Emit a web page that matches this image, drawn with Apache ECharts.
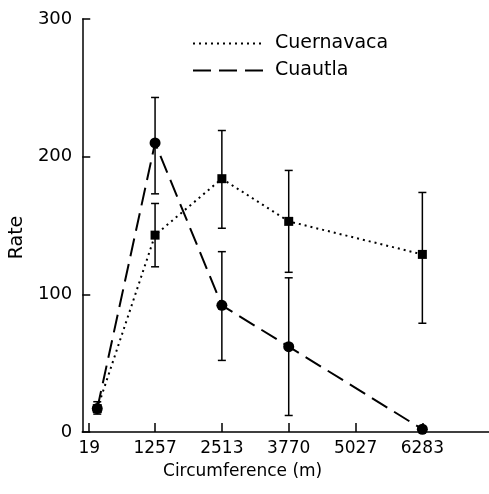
<!DOCTYPE html>
<html>
<head>
<meta charset="utf-8">
<script src="https://cdn.jsdelivr.net/npm/echarts@6/dist/echarts.min.js"></script>
<style>
  html, body { margin: 0; padding: 0; background: #fff; }
  #main { width: 489px; height: 494px; }
</style>
</head>
<body>
<div id="main"></div>
<script>
// tick positions on the circumference axis
const xTicks = [19, 1257, 2513, 3770, 5027, 6283];

// Cuernavaca (dotted, squares)
const cuernX = [170, 1257, 2513, 3770, 6283];
const cuernRate = [17, 143, 184, 153, 129];
const cuernLow = [13, 120, 148, 116, 79];
const cuernHigh = [22, 166, 219, 190, 174];

// Cuautla (dashed, circles)
const cuauX = [170, 1257, 2513, 3770, 6283];
const cuauRate = [17, 210, 92, 62, 2];
const cuauLow = [null, 173, 52, 12, null];
const cuauHigh = [null, 243, 131, 112, null];

const font = 'DejaVu Sans';

function pairs(xs, ys) {
    return xs.map((x, i) => [x, ys[i]]);
}

function bars(xs, lo, hi) {
    const out = [];
    xs.forEach((x, i) => {
        if (lo[i] != null && hi[i] != null) out.push([x, lo[i], hi[i]]);
    });
    return out;
}

function renderErr(params, api) {
    const x = api.value(0);
    const top = api.coord([x, api.value(2)]);
    const bot = api.coord([x, api.value(1)]);
    const w = 4;
    const style = { stroke: '#000', lineWidth: 1.5 };
    return {
        type: 'group',
        children: [
            { type: 'line', shape: { x1: top[0], y1: top[1], x2: bot[0], y2: bot[1] }, style: style },
            { type: 'line', shape: { x1: top[0] - w, y1: top[1], x2: top[0] + w, y2: top[1] }, style: style },
            { type: 'line', shape: { x1: bot[0] - w, y1: bot[1], x2: bot[0] + w, y2: bot[1] }, style: style }
        ]
    };
}

const chart = echarts.init(document.getElementById('main'));

const option = {
    backgroundColor: '#fff',
    animation: false,
    grid: { left: 80, top: 19, right: 0, bottom: 62 },
    legend: {
        orient: 'vertical',
        left: 187,
        top: 29,
        itemWidth: 72,
        itemHeight: 14,
        itemGap: 8,
        textStyle: { fontFamily: font, fontSize: 19, color: '#000', padding: [0, 0, 0, 5] },
        data: [
            { name: 'Cuernavaca', itemStyle: { opacity: 0 } },
            { name: 'Cuautla', itemStyle: { opacity: 0 } }
        ]
    },
    xAxis: {
        type: 'value',
        min: -112,
        max: 7536,
        name: 'Circumference (m)',
        nameLocation: 'middle',
        nameGap: 31,
        nameTextStyle: { fontFamily: font, fontSize: 17, color: '#000', padding: [0, 86, 0, 0] },
        splitLine: { show: false },
        axisLine: { onZero: false, lineStyle: { color: '#000', width: 1.5 } },
        axisTick: { inside: true, length: 9, customValues: xTicks, lineStyle: { color: '#000', width: 1.5 } },
        axisLabel: { customValues: xTicks, margin: 8, fontFamily: font, fontSize: 17, color: '#000',
            formatter: v => String(v) }
    },
    yAxis: {
        type: 'value',
        min: 0,
        max: 300,
        interval: 100,
        name: 'Rate',
        nameLocation: 'middle',
        nameGap: 48,
        nameTextStyle: { fontFamily: font, fontSize: 19, color: '#000', padding: [0, 24, 0, 0] },
        splitLine: { show: false },
        axisLine: { show: true, onZero: false, lineStyle: { color: '#000', width: 1.5 } },
        axisTick: { show: true, inside: true, length: 8, lineStyle: { color: '#000', width: 1.5 } },
        axisLabel: { margin: 10, fontFamily: font, fontSize: 18, color: '#000' }
    },
    series: [
        {
            type: 'custom',
            renderItem: renderErr,
            data: bars(cuernX, cuernLow, cuernHigh),
            z: 1
        },
        {
            type: 'custom',
            renderItem: renderErr,
            data: bars(cuauX, cuauLow, cuauHigh),
            z: 1
        },
        {
            name: 'Cuernavaca',
            type: 'line',
            data: pairs(cuernX, cuernRate),
            symbol: 'rect',
            symbolSize: 9,
            itemStyle: { color: '#000' },
            lineStyle: { color: '#000', width: 2, type: [2, 4] },
            z: 3
        },
        {
            name: 'Cuautla',
            type: 'line',
            data: pairs(cuauX, cuauRate),
            symbol: 'circle',
            symbolSize: 11,
            itemStyle: { color: '#000' },
            lineStyle: { color: '#000', width: 2, type: [18, 8] },
            z: 2
        }
    ]
};

chart.setOption(option);
</script>
</body>
</html>
